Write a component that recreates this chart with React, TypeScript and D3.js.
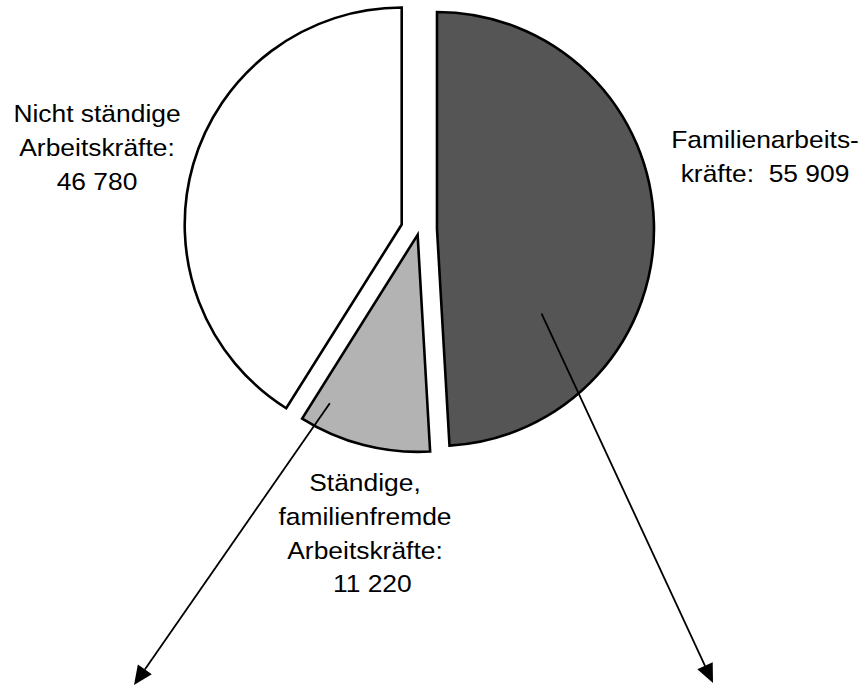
import * as d3 from 'd3';

// Arbeitskräfte nach Art (Personen)
const categories = ['Familienarbeitskräfte', 'Ständige, familienfremde Arbeitskräfte', 'Nicht ständige Arbeitskräfte'];
const values = [55909, 11220, 46780];
const labelLines = [
  ['Familienarbeits-', 'kräfte:  55 909'],
  ['Ständige,', 'familienfremde', 'Arbeitskräfte:', '  11 220'],
  ['Nicht ständige', 'Arbeitskräfte:', '46 780'],
];

const W = 865;
const H = 685;
const cx = 419;
const cy = 229.5;
const radius = 217;
const fills = ['#555555', '#b3b3b3', '#ffffff'];
const explode = [18, 5.5, 18];
// label anchors (centre x, first baseline)
const labelPos = [
  { x: 765, y: 148 },
  { x: 365, y: 491 },
  { x: 97, y: 122 },
];
const lineStep = 33.8;

type Slice = d3.PieArcDatum<number>;

function polar(a: number, r: number) {
  return [Math.sin(a) * r, -Math.cos(a) * r];
}

export default function App() {
  const pie = d3.pie<number>().sort(null).startAngle(0).endAngle(2 * Math.PI);
  const arcs = pie(values);
  const arc = d3.arc<Slice>().innerRadius(0).outerRadius(radius);

  const offsets = arcs.map((d, i) => polar((d.startAngle + d.endAngle) / 2, explode[i]));

  // pointer arrows from inside two slices down to the bottom edge
  const arrows = [
    { slice: 1, angleFrac: 0.87, rFrac: 0.875, end: [134, 685] },
    { slice: 0, angleFrac: 0.73, rFrac: 0.62, end: [713, 683] },
  ].map(a => {
    const d = arcs[a.slice];
    const ang = d.startAngle + (d.endAngle - d.startAngle) * a.angleFrac;
    const [px, py] = polar(ang, radius * a.rFrac);
    const x1 = cx + offsets[a.slice][0] + px;
    const y1 = cy + offsets[a.slice][1] + py;
    const [x2, y2] = a.end;
    const dx = x2 - x1;
    const dy = y2 - y1;
    const len = Math.hypot(dx, dy);
    const ux = dx / len;
    const uy = dy / len;
    const hl = 19;
    const hw = 8.5;
    const bx = x2 - ux * hl;
    const by = y2 - uy * hl;
    const head = [
      [x2, y2],
      [bx - uy * hw, by + ux * hw],
      [bx + uy * hw, by - ux * hw],
    ];
    return { x1, y1, bx, by, head };
  });

  return (
    <svg
      width={W}
      height={H}
      viewBox={`0 0 ${W} ${H}`}
      style={{ position: 'absolute', left: 0, top: 0, background: '#fff' }}
      fontFamily="'Liberation Sans', Arial, sans-serif"
    >
      <rect width={W} height={H} fill="#fff" />
      <g>
        {arcs.map((d, i) => (
          <path
            key={categories[i]}
            d={arc(d) || ''}
            transform={`translate(${cx + offsets[i][0]},${cy + offsets[i][1]})`}
            fill={fills[i]}
            stroke="#000"
            strokeWidth={2.6}
            strokeLinejoin="miter"
          />
        ))}
      </g>
      <g>
        {arrows.map((a, i) => (
          <g key={i}>
            <line x1={a.x1} y1={a.y1} x2={a.bx} y2={a.by} stroke="#000" strokeWidth={1.8} />
            <polygon points={a.head.map(p => p.join(',')).join(' ')} fill="#000" />
          </g>
        ))}
      </g>
      <g fontSize={24} fill="#000">
        {labelLines.map((lines, i) =>
          lines.map((t, j) => (
            <text
              key={`${i}-${j}`}
              transform={`translate(${labelPos[i].x},${labelPos[i].y + j * lineStep}) scale(1.1,1)`}
              textAnchor="middle"
              style={{ whiteSpace: 'pre' }}
            >
              {t}
            </text>
          ))
        )}
      </g>
    </svg>
  );
}
